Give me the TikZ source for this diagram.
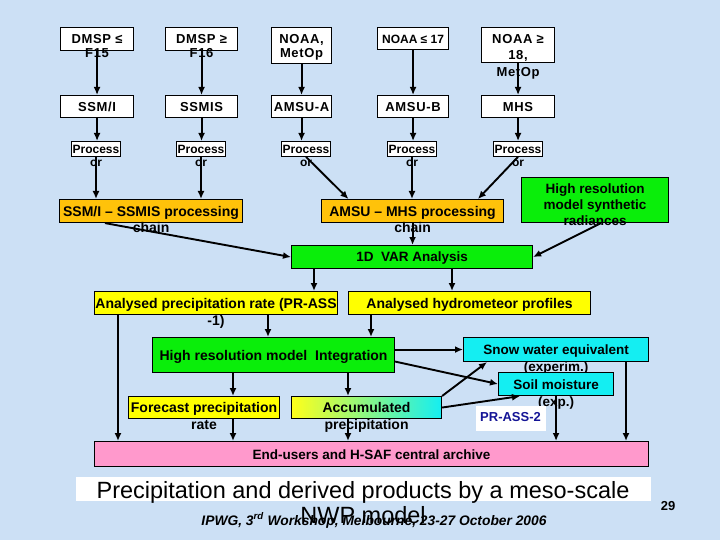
\documentclass[tikz,border=0pt]{standalone}
\usepackage{fontspec}
\setmainfont{Liberation Sans}
\newfontfamily\widesans[LetterSpace=5]{Liberation Sans}
\usetikzlibrary{arrows.meta,calc}
\newcommand\mlines[1]{\begin{tabular}[t]{@{}c@{}}#1\end{tabular}}
\definecolor{bg}{RGB}{204,224,245}
\definecolor{orng}{RGB}{255,194,10}
\definecolor{grn}{RGB}{10,238,10}
\definecolor{ylw}{RGB}{255,255,0}
\definecolor{cyn}{RGB}{20,238,242}
\definecolor{pnk}{RGB}{255,153,204}
\definecolor{prblue}{RGB}{20,20,150}
\begin{document}
\begin{tikzpicture}[x=1pt,y=-1pt,
  bx/.style={draw=black,line width=1.1pt,inner sep=0pt,anchor=north west},
  arr/.style={line width=1.9pt,-{Latex[length=8pt,width=7pt]}},
  fA/.style={font=\fontsize{13}{14}\selectfont\widesans\bfseries},
  fB/.style={font=\fontsize{14}{16.5}\selectfont\bfseries},
  fC/.style={font=\fontsize{13.5}{16}\selectfont\bfseries},
  procbox/.style={bx,fill=white,line width=0.9pt,anchor=north,minimum width=49pt,text height=11.8pt,text depth=3.2pt,font=\fontsize{12}{13.5}\selectfont\bfseries},
  rowbox/.style={bx,fill=white,fA}
]
\useasboundingbox (0,0) rectangle (720,540);
\fill[bg] (0,0) rectangle (720,540);

% row 1
\node[rowbox,minimum width=73pt,text height=16pt,text depth=7pt] (d1) at (60,27) {\mlines{DMSP ≤\\F15}};
\node[rowbox,minimum width=72pt,text height=16pt,text depth=7pt] (d2) at (165,27) {\mlines{DMSP ≥\\F16}};
\node[rowbox,minimum width=60pt,text height=15.5pt,text depth=20.5pt,font=\fontsize{13}{14.5}\selectfont\widesans\bfseries] (n1) at (271,27) {\mlines{NOAA,\\MetOp}};
\node[rowbox,minimum width=71pt,text height=15.5pt,text depth=6.5pt,font=\fontsize{12}{14}\selectfont\bfseries] (n2) at (377,27) {NOAA ≤ 17};
\node[rowbox,minimum width=73pt,text height=15.5pt,text depth=19.5pt,font=\fontsize{13}{16.5}\selectfont\widesans\bfseries] (n3) at (481,27) {\mlines{NOAA ≥\\18,\\MetOp}};

% row 2
\node[rowbox,minimum width=73pt,text height=15.5pt,text depth=6.5pt] (s1) at (60,95) {SSM/I};
\node[rowbox,minimum width=72pt,text height=15.5pt,text depth=6.5pt] (s2) at (165,95) {SSMIS};
\node[rowbox,minimum width=60pt,text height=15.5pt,text depth=6.5pt] (s3) at (271,95) {AMSU-A};
\node[rowbox,minimum width=71pt,text height=15.5pt,text depth=6.5pt] (s4) at (377,95) {AMSU-B};
\node[rowbox,minimum width=73pt,text height=15.5pt,text depth=6.5pt] (s5) at (481,95) {MHS};

% process boxes
\node[procbox] (p1) at (96,141) {\mlines{Process\\or}};
\node[procbox] (p2) at (201,141) {\mlines{Process\\or}};
\node[procbox] (p3) at (306,141) {\mlines{Process\\or}};
\node[procbox] (p4) at (412,141) {\mlines{Process\\or}};
\node[procbox] (p5) at (518,141) {\mlines{Process\\or}};

% processing chains
\node[bx,fill=orng,fB,minimum width=183pt,text height=16.5pt,text depth=6.5pt] (c1) at (59,199) {\mlines{SSM/I – SSMIS processing\\chain}};
\node[bx,fill=orng,fB,minimum width=182pt,text height=16.5pt,text depth=6.5pt] (c2) at (321,199) {\mlines{AMSU – MHS processing\\chain}};
\node[bx,fill=grn,fC,minimum width=147pt,text height=16pt,text depth=29pt] (hr) at (521,177) {\mlines{High resolution\\model synthetic\\radiances}};

% 1D VAR
\node[bx,fill=grn,fC,minimum width=241pt,text height=16.3pt,text depth=6.7pt] (v) at (291,245) {1D\ \ VAR Analysis};

% analysed
\node[bx,fill=ylw,font=\fontsize{14}{17.5}\selectfont\bfseries,minimum width=243pt,text height=16.5pt,text depth=6.5pt] (y1) at (94,291) {\mlines{Analysed precipitation rate (PR-ASS\\-1)}};
\node[bx,fill=ylw,fB,minimum width=242pt,text height=16.5pt,text depth=6.5pt] (y2) at (348,291) {Analysed hydrometeor profiles};

% integration
\node[bx,fill=grn,fB,minimum width=242pt,text height=23pt,text depth=12pt] (int) at (152,337) {High resolution model\ \ Integration};

% forecast / accumulated
\node[bx,fill=ylw,fB,minimum width=151pt,text height=16pt,text depth=6pt] (fc) at (128,396) {\mlines{Forecast precipitation\\rate}};
\node[bx,left color=ylw!90!white,middle color={rgb,255:red,225;green,255;blue,170},right color=cyn,fB,minimum width=150pt,text height=16pt,text depth=6pt] (acc) at (291,396) {\mlines{Accumulated\\precipitation}};

% snow / soil
\node[bx,fill=cyn,font=\fontsize{13.5}{16.5}\selectfont\bfseries,minimum width=185pt,text height=17pt,text depth=7pt] (snow) at (463,337) {\mlines{Snow water equivalent\\(experim.)}};
\node[bx,fill=cyn,font=\fontsize{13.5}{16.5}\selectfont\bfseries,minimum width=115pt,text height=17pt,text depth=6pt] (soil) at (498,372) {\mlines{Soil moisture\\(exp.)}};
\node[bx,draw=none,fill=white,text=prblue,font=\fontsize{13}{15}\selectfont\bfseries,minimum width=70pt,text height=16pt,text depth=9pt] (pr2) at (475,405) {PR-ASS-2};

% end users
\node[bx,fill=pnk,font=\fontsize{13.5}{15}\selectfont\bfseries,minimum width=554pt,text height=17.5pt,text depth=7.5pt] (eu) at (94,441) {End-users and H-SAF central archive};

% helper coordinates
\coordinate (c2a) at ($(c2.north west)!0.15!(c2.north east)$);
\coordinate (c2b) at ($(c2.north west)!0.857!(c2.north east)$);
\coordinate (c1o) at ($(c1.south west)!0.25!(c1.south east)$);
\coordinate (hro) at ($(hr.south west)!0.54!(hr.south east)$);
\coordinate (va) at ($(v.south west)+(23,0)$);
\coordinate (vb) at ($(v.south west)+(161,0)$);
\coordinate (y1a) at ($(y1.south west)+(174,0)$);
\coordinate (y1b) at ($(y1.south west)+(24,0)$);
\coordinate (y2a) at ($(y2.south west)+(23,0)$);
\coordinate (ia) at ($(int.south west)+(81,0)$);
\coordinate (ib) at ($(int.south west)+(196,0)$);
\coordinate (ic) at ($(int.east)+(0,6.5)$);
\coordinate (fa) at ($(fc.south west)+(105,0)$);
\coordinate (aa) at ($(acc.south west)+(57,0)$);
\coordinate (sna) at ($(snow.south west)+(24,0)$);
\coordinate (snb) at ($(snow.south west)+(163,0)$);
\coordinate (soa) at ($(soil.south west)+(22,0)$);

% connectors
\draw[arr] (d1) -- (s1);
\draw[arr] (d2) -- (s2);
\draw[arr] (n1) -- (s3);
\draw[arr] (n2) -- (s4);
\draw[arr] (n3) -- (s5);
\draw[arr] (s1.south) -- (s1.south |- p1.north);
\draw[arr] (s2.south) -- (s2.south |- p2.north);
\draw[arr] (s3.south) -- (s3.south |- p3.north);
\draw[arr] (s4.south) -- (s4.south |- p4.north);
\draw[arr] (s5.south) -- (s5.south |- p5.north);
\draw[arr] (p1.south) -- (p1.south |- c1.north);
\draw[arr] (p2.south) -- (p2.south |- c1.north);
\draw[arr] (p3.south) -- (c2a);
\draw[arr] (p4.south) -- (p4.south |- c2.north);
\draw[arr] (p5.south) -- (c2b);
\draw[arr] (c1o) -- (v.west);
\draw[arr] (c2.south) -- (c2.south |- v.north);
\draw[arr] (hro) -- (v.east);
\draw[arr] (va) -- (va |- y1.north);
\draw[arr] (vb) -- (vb |- y2.north);
\draw[arr] (y1a) -- (y1a |- int.north);
\draw[arr] (y2a) -- (y2a |- int.north);
\draw[arr] (y1b) -- (y1b |- eu.north);
\draw[arr] (ia) -- (ia |- fc.north);
\draw[arr] (ib) -- (ib |- acc.north);
\draw[arr] (fa) -- (fa |- eu.north);
\draw[arr] (aa) -- (aa |- eu.north);
\draw[arr] (int.east |- snow.west) -- (snow.west);
\draw[arr] (ic) -- (soil.west);
\draw[arr] (acc.north east) -- (sna);
\draw[arr] (acc.east) -- (soa);
\draw[arr] (soil.south) -- (soil.south |- eu.north);
\draw[arr] (snb) -- (snb |- eu.north);

% footer and title
\node[font=\fontsize{13.8}{15}\selectfont\bfseries\itshape,anchor=base] (foot) at (374,525) {IPWG, 3\textsuperscript{rd} Workshop, Melbourne, 23-27 October 2006};
\node[font=\fontsize{13}{15}\selectfont\bfseries,anchor=base] (pg) at (668,510) {29};
\node[bx,draw=none,fill=white,font=\fontsize{23.5}{25}\selectfont,minimum width=575pt,text height=22pt,text depth=2pt] (title) at (75,476) {\mlines{Precipitation and derived products by a meso-scale\\NWP model}};
\end{tikzpicture}
\end{document}
